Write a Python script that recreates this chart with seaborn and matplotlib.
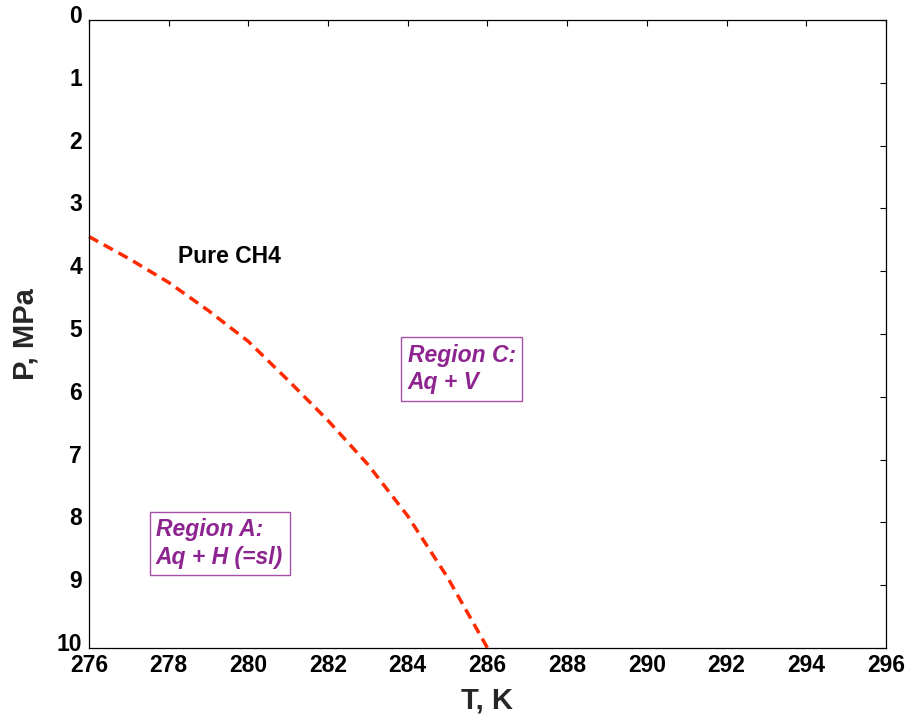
import matplotlib
matplotlib.use("Agg")
import matplotlib.pyplot as plt
import matplotlib.transforms as mtransforms
import seaborn as sns
import pandas as pd

# Hydrate equilibrium curve for pure methane
temperature_k = [276, 277, 278, 279, 280, 281, 282, 283, 284, 285, 286]
pressure_mpa = [3.45, 3.80, 4.18, 4.63, 5.12, 5.74, 6.38, 7.08, 7.90, 8.88, 10.0]

x_ticks = [276, 278, 280, 282, 284, 286, 288, 290, 292, 294, 296]
y_ticks = [0, 1, 2, 3, 4, 5, 6, 7, 8, 9, 10]

curve_label = "Pure CH4"
region_a_label = "Region A:\nAq + H (=sl)"
region_c_label = "Region C:\nAq + V"

sns.set_style("white")
plt.rcParams["font.family"] = ["Liberation Sans", "DejaVu Sans"]
plt.rcParams["font.weight"] = "bold"

df = pd.DataFrame({"T": temperature_k, "P": pressure_mpa})

fig = plt.figure(figsize=(9.09, 7.19), dpi=100)
ax = fig.add_axes([0.0979, 0.0988, 0.8768, 0.8735])

sns.lineplot(data=df, x="T", y="P", ax=ax, color="#ff2a00", linewidth=2.5,
             dashes=False, legend=False)
ax.lines[0].set_dashes([3.0, 1.84])
ax.lines[0].set_clip_on(False)

ax.set_xlim(276, 296)
ax.set_ylim(10, 0)
ax.set_xticks(x_ticks)
ax.set_yticks(y_ticks)
ax.tick_params(direction="in", length=4.5, width=0.8, top=True, right=True,
               labelsize=16.5, colors="black")
ax.tick_params(axis="x", pad=4)
ax.tick_params(axis="y", pad=5)
for lab in ax.get_xticklabels() + ax.get_yticklabels():
    lab.set_fontweight("bold")
# lift the pressure labels a little above their ticks
lift = mtransforms.ScaledTranslation(0, 6 / 100, fig.dpi_scale_trans)
for lab in ax.get_yticklabels():
    lab.set_transform(lab.get_transform() + lift)
for sp in ax.spines.values():
    sp.set_color("black")
    sp.set_linewidth(0.9)

ax.set_xlabel("T, K", fontsize=21, fontweight="bold", labelpad=7)
ax.set_ylabel("P, MPa", fontsize=21, fontweight="bold", labelpad=12)

ax.text(278.23, 3.87, curve_label, fontsize=16.5, fontweight="bold",
        color="black", ha="left", va="baseline")

purple = "#8e2490"
box = dict(boxstyle="square,pad=0.28", facecolor="white", edgecolor="#a850a8",
           linewidth=1.0)
ax.text(277.68, 8.34, region_a_label, fontsize=16.5, fontweight="bold",
        fontstyle="italic", color=purple, ha="left", va="center", bbox=box,
        linespacing=1.25)
ax.text(284.0, 5.56, region_c_label, fontsize=16.5, fontweight="bold",
        fontstyle="italic", color=purple, ha="left", va="center", bbox=box,
        linespacing=1.25)

fig.savefig("out.png", dpi=100)
